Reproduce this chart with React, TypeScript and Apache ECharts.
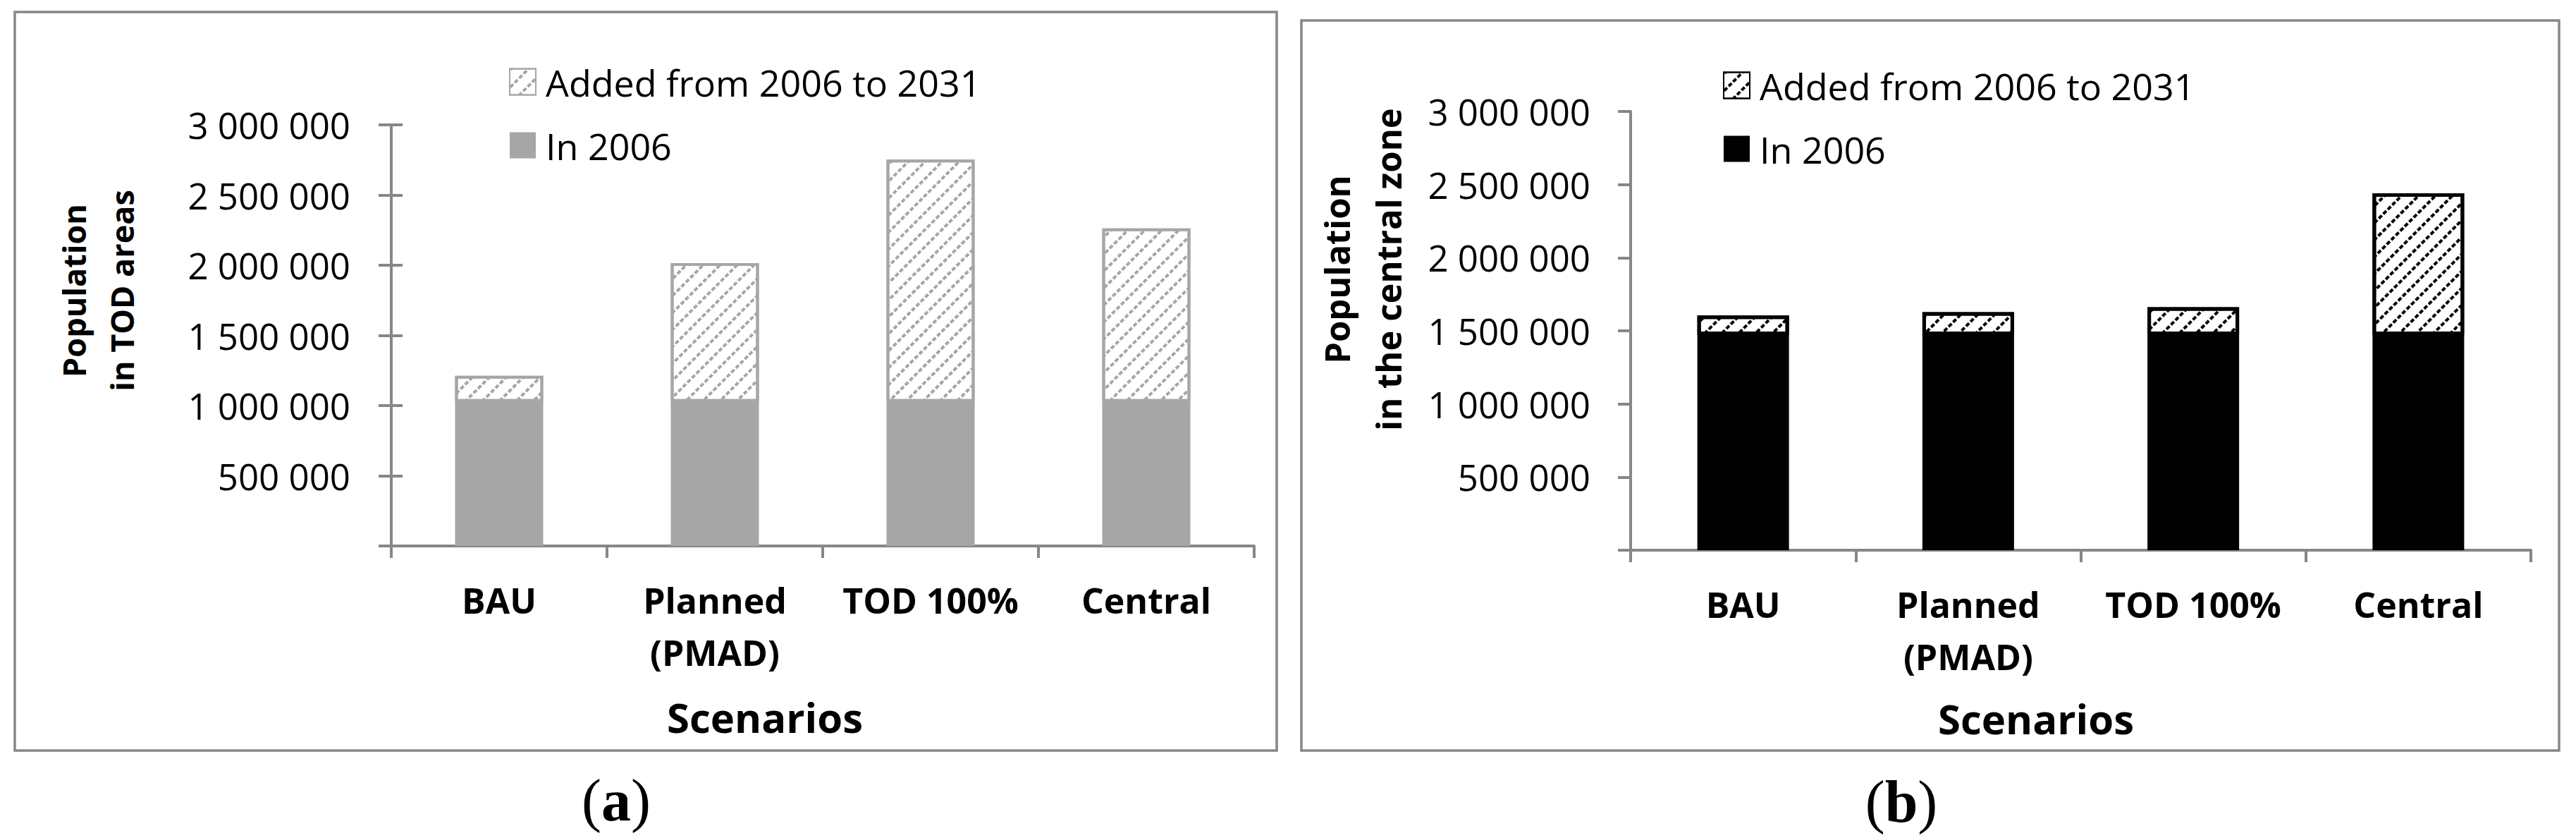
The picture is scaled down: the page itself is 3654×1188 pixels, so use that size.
import React, { useEffect, useRef } from 'react';
import * as echarts from 'echarts';

// ---------- data ----------
const categories = ['BAU', 'Planned\n(PMAD)', 'TOD 100%', 'Central'];
const seriesBaseName = 'In 2006';
const seriesAddedName = 'Added from 2006 to 2031';
const yMin = 0;
const yMax = 3000000;
const yInterval = 500000;

// (a) Population in TOD areas
const todIn2006 = [1027000, 1027000, 1027000, 1027000];
const todAdded = [185000, 988000, 1725000, 1235000];

// (b) Population in the central zone
const centralIn2006 = [1471000, 1471000, 1471000, 1471000];
const centralAdded = [134000, 157000, 191000, 969000];

const yTitleA = 'Population\nin TOD areas';
const yTitleB = 'Population\nin the central zone';
const xTitle = 'Scenarios';

// ---------- styling ----------
const SANS = '"Open Sans", "Liberation Sans", sans-serif';
const SERIF = '"Liberation Serif", "DejaVu Serif", serif';
const AXIS = '#878787';

function fmt(v: number): string {
  if (v === 0) return '';
  return String(v).replace(/\B(?=(\d{3})+(?!\d))/g, ' ');
}

type Spec = {
  base: number[];
  added: number[];
  solid: string;
  hatch: string;
  borderW: number;
  barWidth: number;
  grid: { left: number; top: number; width: number; height: number };
  legend: { left: number; top: number };
  frame: { x: number; y: number; w: number; h: number };
  yTitle: string;
  yTitlePos: { x: number; y: number; size: number; lh: number };
  xTitlePos: { x: number; y: number };
  tag: string;
  tagPos: { x: number; y: number };
  labelMargin: number;
  crossTicks: boolean;
};

function buildOption(p: Spec): any {
  const yAxes: any[] = [
    {
      type: 'value',
      min: yMin,
      max: yMax,
      interval: yInterval,
      axisLine: { show: true, lineStyle: { color: AXIS, width: 4 } },
      axisTick: { show: true, length: 18, lineStyle: { color: AXIS, width: 4 } },
      axisLabel: {
        formatter: fmt,
        margin: p.labelMargin,
        fontFamily: SANS,
        fontSize: 51,
        color: '#000',
      },
      splitLine: { show: false },
    },
  ];
  if (p.crossTicks) {
    yAxes.push({
      type: 'value',
      min: yMin,
      max: yMax,
      interval: yInterval,
      position: 'left',
      axisLine: { show: false },
      axisTick: { show: true, inside: true, length: 16, lineStyle: { color: AXIS, width: 4 } },
      axisLabel: { show: false },
      splitLine: { show: false },
    });
  }
  return {
    animation: false,
    backgroundColor: 'transparent',
    grid: { ...p.grid, containLabel: false },
    legend: {
      orient: 'vertical',
      left: p.legend.left,
      top: p.legend.top,
      padding: 0,
      itemWidth: 37,
      itemHeight: 37,
      itemGap: 38,
      icon: 'rect',
      selectedMode: false,
      data: [seriesAddedName, seriesBaseName],
      textStyle: {
        fontFamily: SANS,
        fontSize: 52,
        lineHeight: 52,
        color: '#000',
        padding: [0, 0, 0, 9],
      },
    },
    xAxis: {
      type: 'category',
      data: categories,
      boundaryGap: true,
      axisLine: { show: true, lineStyle: { color: AXIS, width: 4 } },
      axisTick: { show: true, length: 17, lineStyle: { color: AXIS, width: 4 } },
      axisLabel: {
        interval: 0,
        margin: 40,
        fontFamily: SANS,
        fontWeight: 'bold',
        fontSize: 50,
        lineHeight: 74,
        color: '#000',
      },
    },
    yAxis: yAxes,
    series: [
      {
        name: seriesBaseName,
        type: 'bar',
        stack: 'pop',
        barWidth: p.barWidth,
        data: p.base,
        itemStyle: { color: p.solid },
      },
      {
        name: seriesAddedName,
        type: 'bar',
        stack: 'pop',
        barWidth: p.barWidth,
        data: p.added,
        itemStyle: {
          color: '#ffffff',
          borderColor: p.hatch,
          borderWidth: p.borderW,
          decal: {
            symbol: 'rect',
            symbolSize: 1,
            color: p.hatch,
            backgroundColor: '#ffffff',
            dashArrayX: [6, 3],
            dashArrayY: [4, 13],
            rotation: -Math.PI / 4,
          },
        },
      },
    ],
    graphic: [
      {
        type: 'rect',
        shape: { x: p.frame.x, y: p.frame.y, width: p.frame.w, height: p.frame.h },
        style: { fill: 'none', stroke: AXIS, lineWidth: 3.5 },
        silent: true,
      },
      {
        type: 'text',
        x: p.yTitlePos.x,
        y: p.yTitlePos.y,
        rotation: Math.PI / 2,
        style: {
          text: p.yTitle,
          fontFamily: SANS,
          fontWeight: 'bold',
          fontSize: p.yTitlePos.size,
          lineHeight: p.yTitlePos.lh,
          align: 'center',
          verticalAlign: 'middle',
          fill: '#000',
        },
      },
      {
        type: 'text',
        x: p.xTitlePos.x,
        y: p.xTitlePos.y,
        style: {
          text: xTitle,
          fontFamily: SANS,
          fontWeight: 'bold',
          fontSize: 58,
          align: 'center',
          verticalAlign: 'middle',
          fill: '#000',
        },
      },
      {
        type: 'text',
        x: p.tagPos.x,
        y: p.tagPos.y,
        style: {
          text: '{p|(}{b|' + p.tag + '}{p|)}',
          align: 'center',
          verticalAlign: 'middle',
          fill: '#000',
          rich: {
            p: { fontFamily: SERIF, fontSize: 84, fill: '#000' },
            b: { fontFamily: SERIF, fontSize: 84, fontWeight: 'bold', fill: '#000' },
          },
        },
      },
    ],
  };
}

const specA: Spec = {
  base: todIn2006,
  added: todAdded,
  solid: '#a6a6a6',
  hatch: '#a6a6a6',
  borderW: 4,
  barWidth: 125,
  grid: { left: 555, top: 177, width: 1224, height: 597 },
  legend: { left: 722, top: 90 },
  frame: { x: 21, y: 17, w: 1790, h: 1047 },
  yTitle: yTitleA,
  yTitlePos: { x: 138, y: 412, size: 45, lh: 68 },
  xTitlePos: { x: 1085, y: 1016 },
  tag: 'a',
  tagPos: { x: 874, y: 1134 },
  labelMargin: 58,
  crossTicks: true,
};

const specB: Spec = {
  base: centralIn2006,
  added: centralAdded,
  solid: '#000000',
  hatch: '#000000',
  borderW: 5,
  barWidth: 130,
  grid: { left: 483, top: 158, width: 1277, height: 622 },
  legend: { left: 614, top: 95 },
  frame: { x: 16, y: 29, w: 1784, h: 1035 },
  yTitle: yTitleB,
  yTitlePos: { x: 102, y: 382, size: 49, lh: 73 },
  xTitlePos: { x: 1058, y: 1018 },
  tag: 'b',
  tagPos: { x: 867, y: 1136 },
  labelMargin: 57,
  crossTicks: false,
};

function Panel({ spec, left, width }: { spec: Spec; left: number; width: number }) {
  const ref = useRef<HTMLDivElement>(null);
  useEffect(() => {
    if (!ref.current) return;
    const chart = echarts.init(ref.current, undefined, { renderer: 'svg' });
    chart.setOption(buildOption(spec));
    return () => chart.dispose();
  }, [spec]);
  return (
    <div
      ref={ref}
      style={{ position: 'absolute', left, top: 0, width, height: 1188, background: '#fff' }}
    />
  );
}

export default function App() {
  return (
    <div style={{ position: 'absolute', left: 0, top: 0, width: 3654, height: 1188, background: '#fff' }}>
      <Panel spec={specA} left={0} width={1830} />
      <Panel spec={specB} left={1830} width={1824} />
    </div>
  );
}
